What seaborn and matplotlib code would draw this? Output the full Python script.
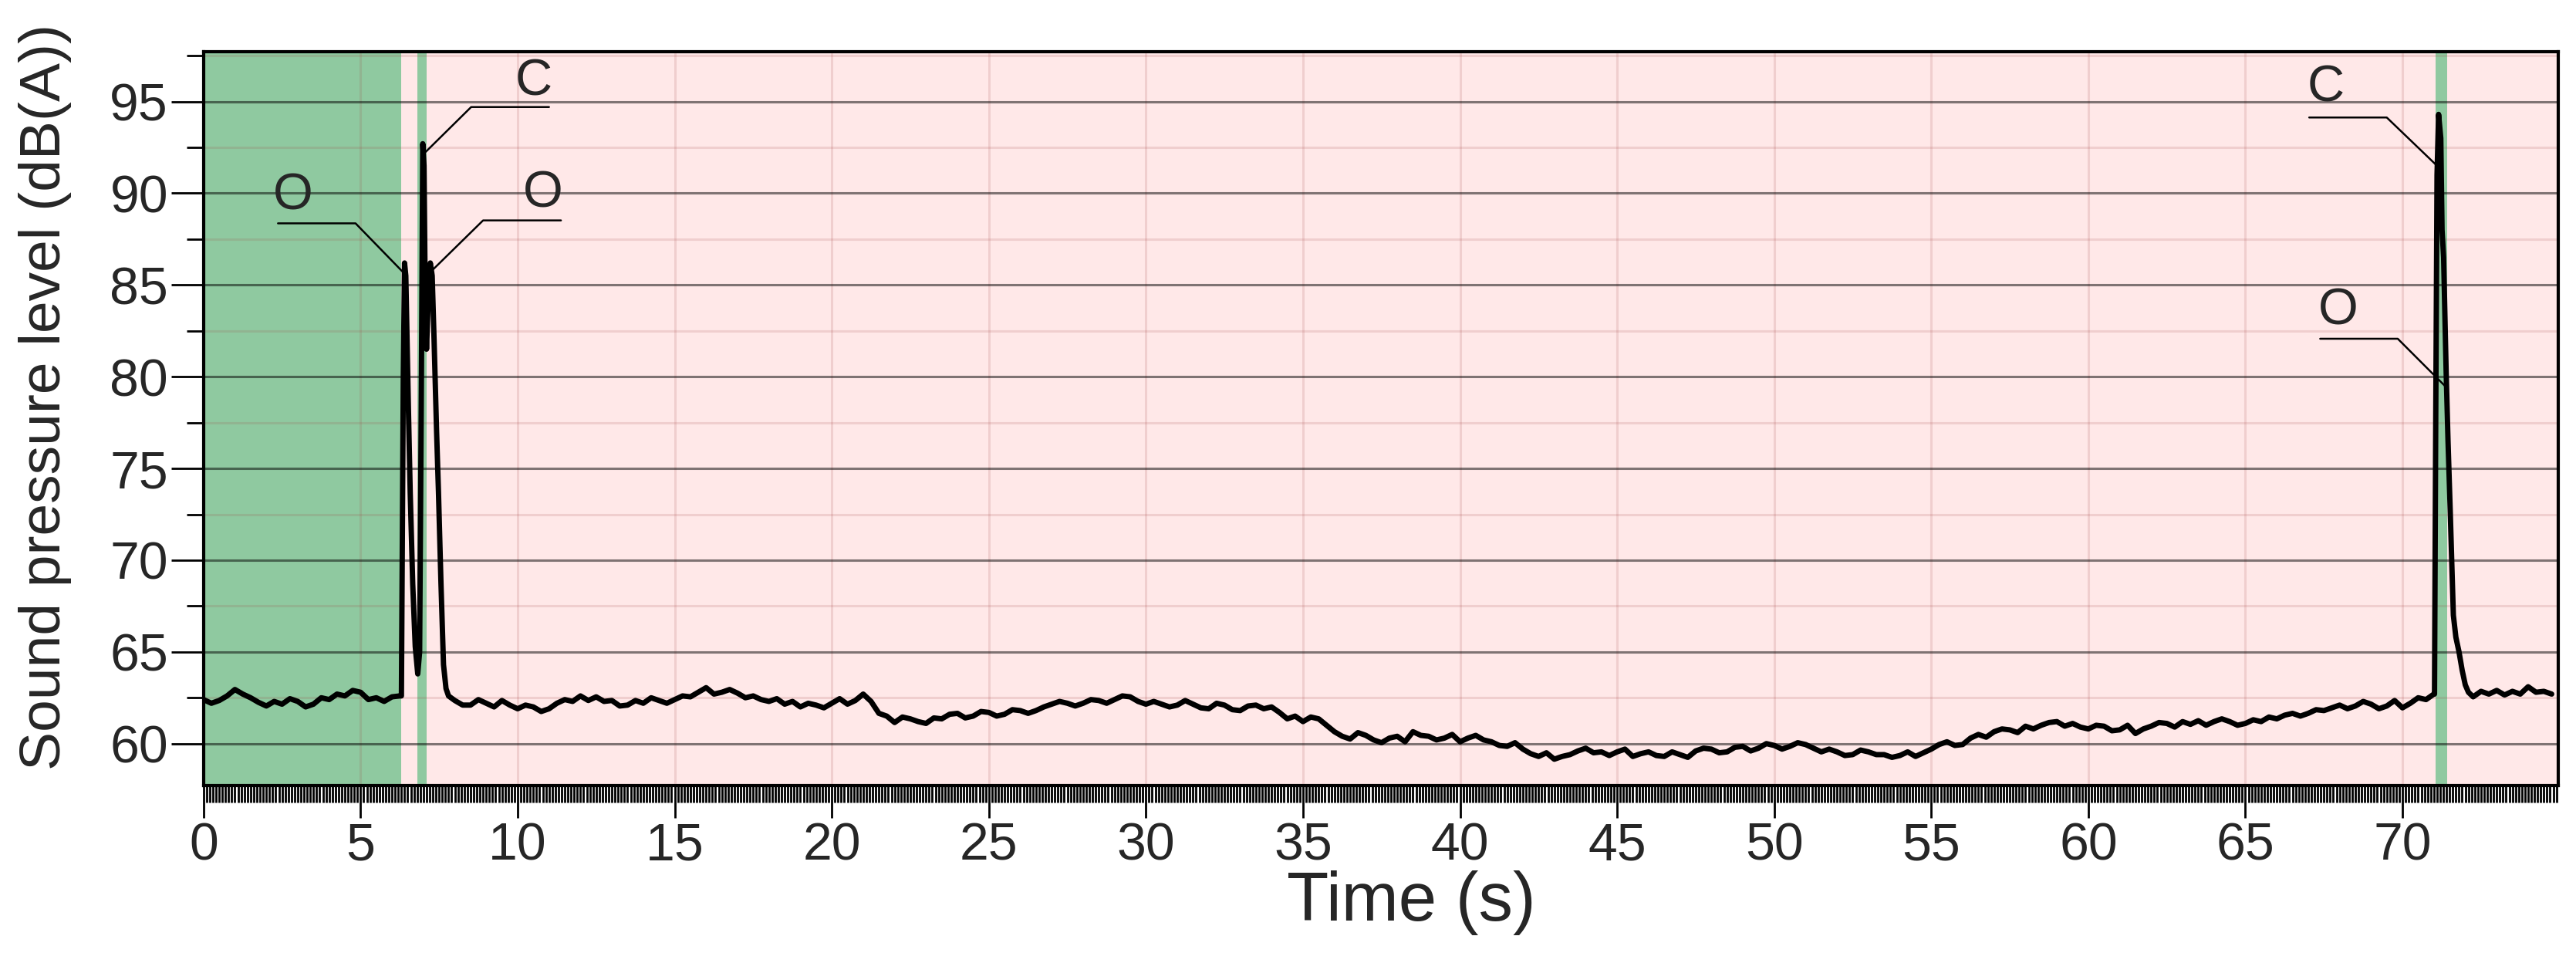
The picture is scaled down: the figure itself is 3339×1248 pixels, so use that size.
import numpy as np
import pandas as pd
import matplotlib
matplotlib.use('Agg')
import matplotlib.pyplot as plt
from matplotlib.ticker import MultipleLocator
import seaborn as sns

# sound pressure level readings, dB(A)
# steady parts are read every 0.25 s, the valve events at their own times
seg1_t0 = 0.0
seg1_spl = [62.4, 62.2, 62.35, 62.6, 62.95, 62.7, 62.5, 62.25, 62.05, 62.3,
            62.15, 62.45, 62.3, 62.0, 62.15, 62.5, 62.4, 62.7, 62.6, 62.9,
            62.8, 62.4, 62.5, 62.3, 62.55, 62.6]

peak1_t = [6.30, 6.36, 6.40, 6.44, 6.52, 6.58, 6.66, 6.74, 6.82, 6.88, 6.93,
           6.98, 7.02, 7.06, 7.10, 7.16, 7.22, 7.28, 7.34, 7.42, 7.48, 7.56,
           7.64, 7.72, 7.80]
peak1_spl = [62.6, 80.0, 86.2, 85.5, 78.5, 73.7, 68.7, 65.3, 63.8, 65.0, 78.0,
             92.7, 91.5, 84.0, 81.5, 84.5, 86.2, 85.5, 82.0, 77.0, 73.7, 68.7,
             64.3, 63.0, 62.6]

seg2_t0 = 8.0
seg2_spl = [
    62.35, 62.1, 62.1, 62.4, 62.2, 62.0, 62.35, 62.1,          # 8
    61.9, 62.1, 62.0, 61.75, 61.9, 62.2, 62.4, 62.3,           # 10
    62.6, 62.35, 62.55, 62.3, 62.35, 62.05, 62.1, 62.35,       # 12
    62.2, 62.5, 62.35, 62.2, 62.4, 62.6, 62.55, 62.8,          # 14
    63.05, 62.7, 62.8, 62.95, 62.75, 62.5, 62.6, 62.4,         # 16
    62.3, 62.45, 62.15, 62.3, 62.0, 62.2, 62.1, 61.95,         # 18
    62.2, 62.45, 62.15, 62.35, 62.7, 62.3, 61.65, 61.5,        # 20
    61.15, 61.45, 61.35, 61.2, 61.1, 61.4, 61.35, 61.6,        # 22
    61.65, 61.4, 61.5, 61.75, 61.7, 61.5, 61.6, 61.85,         # 24
    61.8, 61.65, 61.8, 62.0, 62.15, 62.3, 62.2, 62.05,         # 26
    62.2, 62.4, 62.35, 62.2, 62.4, 62.6, 62.55, 62.3,          # 28
    62.15, 62.3, 62.15, 62.0, 62.1, 62.35, 62.15, 61.95,       # 30
    61.9, 62.2, 62.1, 61.85, 61.8, 62.05, 62.1, 61.9,          # 32
    62.0, 61.7, 61.35, 61.5, 61.2, 61.45, 61.35, 61.0,         # 34
    60.65, 60.4, 60.25, 60.6, 60.45, 60.2, 60.05, 60.3,        # 36
    60.4, 60.1, 60.65, 60.45, 60.4, 60.2, 60.3, 60.5,          # 38
    60.1, 60.3, 60.45, 60.2, 60.1, 59.9, 59.85, 60.05,         # 40
    59.7, 59.45, 59.3, 59.5, 59.15, 59.3, 59.4, 59.6,          # 42
    59.75, 59.5, 59.55, 59.35, 59.55, 59.7, 59.3, 59.45,       # 44
    59.55, 59.35, 59.3, 59.55, 59.4, 59.25, 59.6, 59.75,       # 46
    59.7, 59.5, 59.55, 59.8, 59.85, 59.6, 59.75, 60.0,         # 48
    59.9, 59.7, 59.85, 60.05, 59.95, 59.75, 59.55, 59.7,       # 50
    59.55, 59.35, 59.4, 59.65, 59.55, 59.4, 59.4, 59.25,       # 52
    59.35, 59.55, 59.3, 59.5, 59.7, 59.95, 60.1, 59.9,         # 54
    59.95, 60.3, 60.5, 60.35, 60.65, 60.8, 60.75, 60.6,        # 56
    60.95, 60.8, 61.0, 61.15, 61.2, 60.95, 61.1, 60.9,         # 58
    60.8, 61.0, 60.95, 60.7, 60.75, 61.0, 60.55, 60.8,         # 60
    60.95, 61.15, 61.1, 60.9, 61.2, 61.05, 61.25, 61.0,        # 62
    61.2, 61.35, 61.2, 61.0, 61.1, 61.3, 61.2, 61.45,          # 64
    61.35, 61.55, 61.65, 61.5, 61.65, 61.85, 61.8, 61.95,      # 66
    62.1, 61.9, 62.05, 62.3, 62.15, 61.9, 62.05, 62.35,        # 68
    61.95, 62.2, 62.5, 62.4, 62.7,                             # 70
]

peak2_t = [71.02, 71.06, 71.10, 71.15, 71.22, 71.26, 71.31, 71.39, 71.45,
           71.52, 71.62, 71.70, 71.80, 71.90, 72.00, 72.10]
peak2_spl = [62.7, 78.0, 91.0, 94.3, 93.0, 88.0, 86.5, 80.3, 76.5,
             72.7, 67.0, 65.8, 65.0, 64.0, 63.2, 62.8]

seg3_t0 = 72.25
seg3_spl = [62.55, 62.85, 62.7, 62.9, 62.65, 62.85, 62.7, 63.1, 62.8, 62.85,
            62.7]

# green bands
band_start = [0.0, 6.82, 71.05]
band_end = [6.29, 7.11, 71.43]

# O / C labels: text position, underline, target point
ann_label = ['O', 'C', 'O', 'C', 'O']
ann_text_x = [2.85, 10.5, 10.8, 67.55, 67.95]
ann_text_y = [89.85, 96.05, 89.95, 95.7, 83.55]
ann_line_x0 = [2.37, 11.0, 11.38, 67.03, 67.38]   # free end of underline
ann_knee_x = [4.84, 8.52, 8.9, 69.5, 69.85]       # where the leader bends
ann_line_y = [88.36, 94.7, 88.52, 94.13, 82.07]
ann_pt_x = [6.38, 7.07, 7.28, 71.1, 71.35]
ann_pt_y = [85.65, 92.25, 85.8, 91.5, 79.5]

t = np.concatenate([
    seg1_t0 + 0.25 * np.arange(len(seg1_spl)),
    peak1_t,
    seg2_t0 + 0.25 * np.arange(len(seg2_spl)),
    peak2_t,
    seg3_t0 + 0.25 * np.arange(len(seg3_spl)),
])
spl = np.concatenate([seg1_spl, peak1_spl, seg2_spl, peak2_spl, seg3_spl])
df = pd.DataFrame({'time': t, 'spl': spl})

sns.set_style('ticks')
plt.rcParams['font.family'] = ['Liberation Sans', 'DejaVu Sans']

fig = plt.figure(figsize=(33.39, 12.48), dpi=100)
ax = fig.add_axes([0.079, 0.184, 0.914, 0.762])
ax.set_facecolor('#ffe8e8')

for x0, x1 in zip(band_start, band_end):
    ax.axvspan(x0, x1, color='#8fc9a0', lw=0, zorder=1)

sns.lineplot(data=df, x='time', y='spl', estimator=None, sort=False,
             color='black', lw=5, ax=ax, zorder=3)

# leaders and labels
for i, lab in enumerate(ann_label):
    ax.plot([ann_line_x0[i], ann_knee_x[i], ann_pt_x[i]],
            [ann_line_y[i], ann_line_y[i], ann_pt_y[i]],
            color='black', lw=1.8, zorder=4)
    ax.text(ann_text_x[i], ann_text_y[i], lab, fontsize=48,
            ha='center', va='center', zorder=4)

ax.set_xlim(0, 74.95)
ax.set_ylim(57.7, 97.7)
ax.xaxis.set_major_locator(MultipleLocator(5))
ax.xaxis.set_minor_locator(MultipleLocator(0.1))
ax.yaxis.set_major_locator(MultipleLocator(5))
ax.yaxis.set_minor_locator(MultipleLocator(2.5))

ax.set_axisbelow('line')
ax.grid(axis='y', which='major', color='black', alpha=0.5, lw=2.2)
ax.grid(axis='y', which='minor', color='#a04040', alpha=0.15, lw=2.2)
ax.grid(axis='x', which='major', color='#a04040', alpha=0.15, lw=2.2)

ax.tick_params(axis='both', which='major', direction='out', length=30,
               width=2, color='black', labelsize=49, pad=3)
ax.tick_params(axis='both', which='minor', direction='out', length=16,
               width=2, color='black')

for s in ax.spines.values():
    s.set_visible(True)
    s.set_linewidth(3)
    s.set_color('black')

ax.set_xlabel('Time (s)', fontsize=64)
ax.set_ylabel('Sound pressure level (dB(A))', fontsize=54)
ax.xaxis.set_label_coords(0.513, -0.115)
ax.yaxis.set_label_coords(-0.056, 0.53)

fig.savefig('out.png', dpi=100)
